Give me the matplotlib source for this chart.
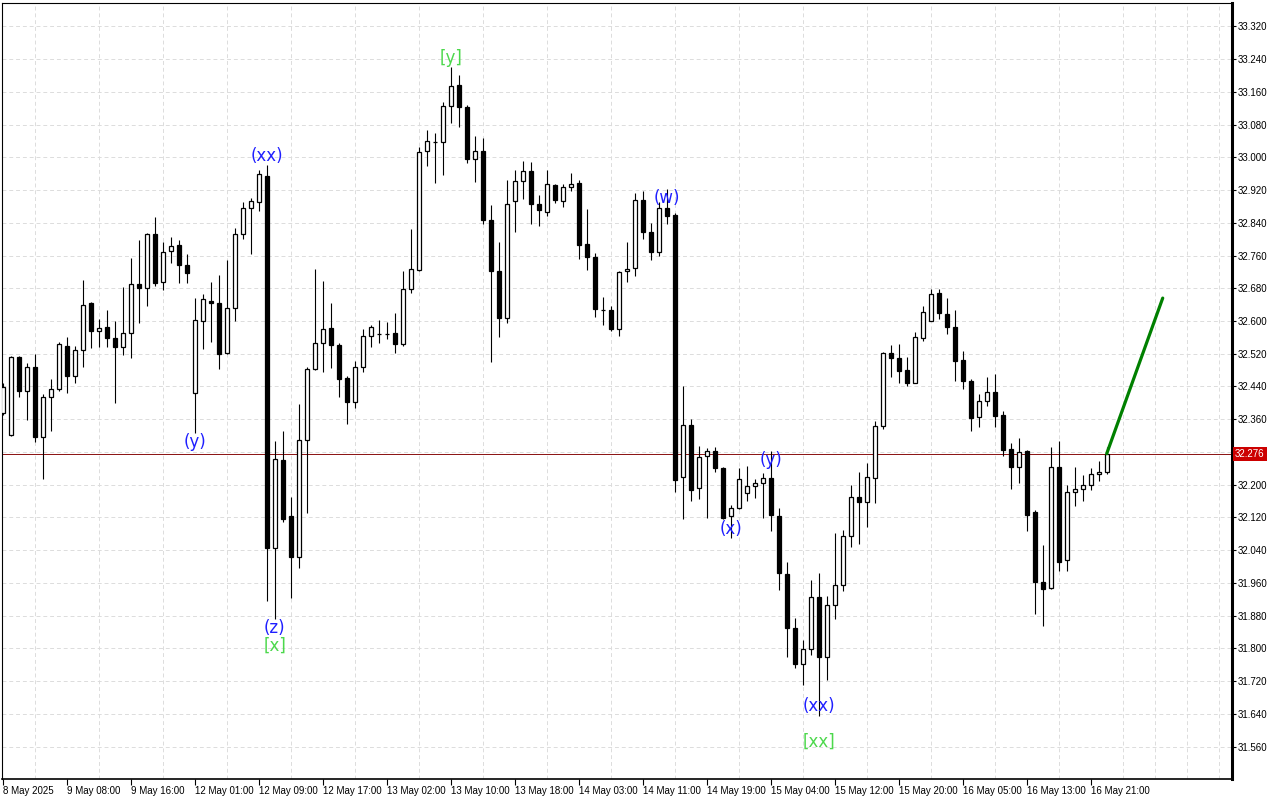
import numpy as np
import matplotlib
matplotlib.use('Agg')
import matplotlib.pyplot as plt
import matplotlib.transforms as mtransforms

opens = [32.375, 32.321, 32.511, 32.430, 32.487, 32.317, 32.414, 32.433, 32.539, 32.466,
         32.529, 32.643, 32.575, 32.585, 32.558, 32.536, 32.570, 32.690, 32.681, 32.813,
         32.695, 32.770, 32.785, 32.736, 32.423, 32.601, 32.649, 32.643, 32.522, 32.631,
         32.812, 32.875, 32.892, 32.954, 32.046, 32.260, 32.124, 32.024, 32.309, 32.482,
         32.546, 32.582, 32.541, 32.460, 32.401, 32.487, 32.563, 32.568, 32.568, 32.570,
         32.543, 32.678, 32.724, 33.015, 33.037, 33.037, 33.125, 33.176, 33.123, 32.995,
         33.015, 32.847, 32.723, 32.608, 32.893, 32.941, 32.966, 32.885, 32.866, 32.932,
         32.893, 32.927, 32.937, 32.788, 32.756, 32.628, 32.626, 32.581, 32.721, 32.729,
         32.895, 32.817, 32.768, 32.875, 32.859, 32.219, 32.346, 32.191, 32.270, 32.282,
         32.241, 32.124, 32.144, 32.180, 32.197, 32.204, 32.216, 32.124, 31.982, 31.851,
         31.761, 31.798, 31.925, 31.780, 31.905, 31.954, 32.075, 32.170, 32.159, 32.216,
         32.343, 32.521, 32.509, 32.480, 32.449, 32.558, 32.601, 32.668, 32.617, 32.585,
         32.505, 32.453, 32.365, 32.404, 32.426, 32.370, 32.287, 32.243, 32.282, 32.133,
         31.962, 31.947, 32.243, 32.015, 32.182, 32.190, 32.199, 32.226, 32.231]
highs = [32.449, 32.515, 32.515, 32.497, 32.519, 32.422, 32.458, 32.548, 32.561, 32.539,
         32.699, 32.646, 32.605, 32.627, 32.600, 32.682, 32.753, 32.797, 32.815, 32.854,
         32.792, 32.805, 32.797, 32.763, 32.656, 32.666, 32.695, 32.712, 32.749, 32.827,
         32.892, 32.901, 32.969, 32.981, 32.307, 32.331, 32.171, 32.397, 32.488, 32.726,
         32.698, 32.643, 32.547, 32.466, 32.502, 32.580, 32.590, 32.602, 32.598, 32.619,
         32.722, 32.825, 33.024, 33.067, 33.059, 33.136, 33.221, 33.201, 33.128, 33.052,
         33.046, 32.883, 32.794, 32.945, 32.969, 32.991, 32.988, 32.908, 32.968, 32.934,
         32.934, 32.962, 32.944, 32.874, 32.766, 32.659, 32.637, 32.723, 32.794, 32.913,
         32.918, 32.839, 32.892, 32.922, 32.864, 32.441, 32.361, 32.294, 32.290, 32.292,
         32.243, 32.150, 32.240, 32.246, 32.215, 32.228, 32.283, 32.144, 32.011, 31.875,
         31.821, 31.966, 31.984, 31.929, 32.083, 32.090, 32.200, 32.230, 32.254, 32.356,
         32.525, 32.541, 32.544, 32.511, 32.574, 32.637, 32.678, 32.678, 32.656, 32.627,
         32.527, 32.458, 32.421, 32.463, 32.470, 32.380, 32.301, 32.314, 32.284, 32.138,
         32.053, 32.291, 32.307, 32.199, 32.243, 32.224, 32.240, 32.258, 32.293]
lows = [32.370, 32.319, 32.415, 32.358, 32.305, 32.213, 32.332, 32.430, 32.425, 32.449,
        32.488, 32.535, 32.537, 32.537, 32.400, 32.518, 32.510, 32.594, 32.637, 32.686,
        32.676, 32.742, 32.692, 32.694, 32.326, 32.532, 32.549, 32.483, 32.520, 32.601,
        32.800, 32.763, 32.869, 31.917, 31.871, 32.110, 31.924, 31.996, 32.130, 32.480,
        32.476, 32.485, 32.414, 32.348, 32.387, 32.476, 32.536, 32.547, 32.555, 32.522,
        32.539, 32.669, 32.722, 32.979, 32.938, 32.957, 33.085, 33.075, 32.987, 32.940,
        32.836, 32.501, 32.562, 32.594, 32.818, 32.898, 32.838, 32.833, 32.857, 32.889,
        32.879, 32.917, 32.752, 32.725, 32.611, 32.590, 32.576, 32.564, 32.696, 32.710,
        32.800, 32.749, 32.760, 32.837, 32.183, 32.116, 32.161, 32.166, 32.119, 32.232,
        32.116, 32.069, 32.140, 32.161, 32.167, 32.118, 32.088, 31.944, 31.780, 31.751,
        31.710, 31.783, 31.635, 31.723, 31.871, 31.940, 32.047, 32.056, 32.097, 32.155,
        32.336, 32.464, 32.449, 32.442, 32.448, 32.550, 32.599, 32.606, 32.568, 32.454,
        32.435, 32.332, 32.342, 32.393, 32.342, 32.271, 32.190, 32.205, 32.088, 31.883,
        31.856, 31.945, 31.988, 31.988, 32.149, 32.161, 32.188, 32.210, 32.225]
closes = [32.438, 32.511, 32.430, 32.487, 32.317, 32.414, 32.433, 32.543, 32.466, 32.529,
          32.638, 32.575, 32.582, 32.558, 32.536, 32.570, 32.690, 32.681, 32.813, 32.694,
          32.768, 32.783, 32.736, 32.717, 32.602, 32.653, 32.643, 32.520, 32.631, 32.812,
          32.875, 32.893, 32.959, 32.045, 32.262, 32.116, 32.024, 32.309, 32.482, 32.546,
          32.580, 32.541, 32.459, 32.401, 32.487, 32.563, 32.585, 32.569, 32.568, 32.543,
          32.678, 32.726, 33.012, 33.040, 33.037, 33.125, 33.174, 33.122, 32.995, 33.015,
          32.847, 32.723, 32.608, 32.885, 32.941, 32.966, 32.885, 32.871, 32.934, 32.895,
          32.927, 32.934, 32.786, 32.756, 32.629, 32.626, 32.581, 32.719, 32.727, 32.895,
          32.818, 32.768, 32.875, 32.856, 32.212, 32.346, 32.187, 32.268, 32.282, 32.240,
          32.118, 32.143, 32.213, 32.196, 32.204, 32.216, 32.126, 31.984, 31.851, 31.761,
          31.798, 31.925, 31.780, 31.905, 31.954, 32.075, 32.170, 32.159, 32.218, 32.343,
          32.521, 32.509, 32.479, 32.449, 32.560, 32.621, 32.665, 32.620, 32.586, 32.503,
          32.454, 32.364, 32.404, 32.426, 32.369, 32.285, 32.244, 32.281, 32.127, 31.962,
          31.945, 32.243, 32.012, 32.182, 32.190, 32.199, 32.226, 32.231, 32.276]

time_labels = ["8 May 2025", "9 May 08:00", "9 May 16:00", "12 May 01:00", "12 May 09:00",
               "12 May 17:00", "13 May 02:00", "13 May 10:00", "13 May 18:00", "14 May 03:00",
               "14 May 11:00", "14 May 19:00", "15 May 04:00", "15 May 12:00", "15 May 20:00",
               "16 May 05:00", "16 May 13:00", "16 May 21:00"]
label_step = 8

wave_text = ["(y)", "(xx)", "(z)", "[x]", "[y]", "(w)", "(x)", "(y)", "(xx)", "[xx]"]
wave_bar = [24, 33, 34, 34, 56, 83, 91, 96, 102, 102]
wave_price = [32.304, 33.003, 31.850, 31.806, 33.243, 32.901, 32.092, 32.260, 31.660, 31.571]

proj_bar = [138, 145]
proj_price = [32.276, 32.656]

price_ticks = np.round(np.arange(31.56, 33.321, 0.08), 3)
y_min, y_max = 31.481, 33.377

fig = plt.figure(figsize=(12.8, 8), dpi=100)
ax = fig.add_axes([2 / 1280, 21 / 800, 1230 / 1280, 776 / 800])

x = np.arange(len(opens))
o = np.array(opens)
c = np.array(closes)
up = c >= o

# wicks then bodies
ax.vlines(x, lows, highs, color='black', linewidth=0.8, zorder=3)
ax.bar(x[up], (c - o)[up], bottom=o[up], width=0.5, color='white',
       edgecolor='black', linewidth=0.9, zorder=4)
ax.bar(x[~up], (o - c)[~up], bottom=c[~up], width=0.5, color='black',
       edgecolor='black', linewidth=0.9, zorder=4)

ax.plot(proj_bar, proj_price, color='#008000', linewidth=2.3, zorder=5,
        solid_capstyle='round')

last = closes[-1]
ax.axhline(last, color='#8a1010', linewidth=0.7, zorder=2)

for t, b, p in zip(wave_text, wave_bar, wave_price):
    col = '#4cd84c' if t.startswith('[') else '#1f1fff'
    ax.text(b, p, t, color=col, fontsize=12, ha='center', va='center', zorder=6)

ax.set_xlim(-0.09, 153.66)
ax.set_ylim(y_min, y_max)

ax.set_xticks(np.arange(len(time_labels)) * label_step)
ax.set_xticklabels(time_labels, fontsize=7, family='Liberation Sans', ha='left')
ax.set_xticks(np.arange(0, 154, 4), minor=True)
ax.tick_params(axis='x', which='major', direction='out', length=4, width=0.8, pad=1)
ax.tick_params(axis='x', which='minor', length=0)

ax.yaxis.tick_right()
ax.set_yticks(price_ticks)
ax.set_yticklabels(['%.3f' % v for v in price_ticks], fontsize=7, family='Liberation Sans')
ax.tick_params(axis='y', direction='out', length=3, width=0.8, pad=1)

ax.grid(True, which='minor', axis='x', color='#dcdcdc', linestyle=(0, (4, 3)), linewidth=0.7)
ax.grid(True, which='major', axis='y', color='#dcdcdc', linestyle=(0, (4, 3)), linewidth=0.7)
ax.set_axisbelow(True)

ax.spines['right'].set_linewidth(2.2)
ax.spines['bottom'].set_linewidth(1.2)
ax.spines['top'].set_linewidth(0.8)
ax.spines['left'].set_linewidth(0.8)

trans = mtransforms.blended_transform_factory(ax.transAxes, ax.transData)
ax.text(1.0025, last, '%.3f' % last, transform=trans, fontsize=7, family='Liberation Sans',
        color='white', ha='left', va='center',
        bbox=dict(boxstyle='square,pad=0.2', facecolor='#cc0000', edgecolor='none'))

fig.savefig('out.png', dpi=100, facecolor='white')
